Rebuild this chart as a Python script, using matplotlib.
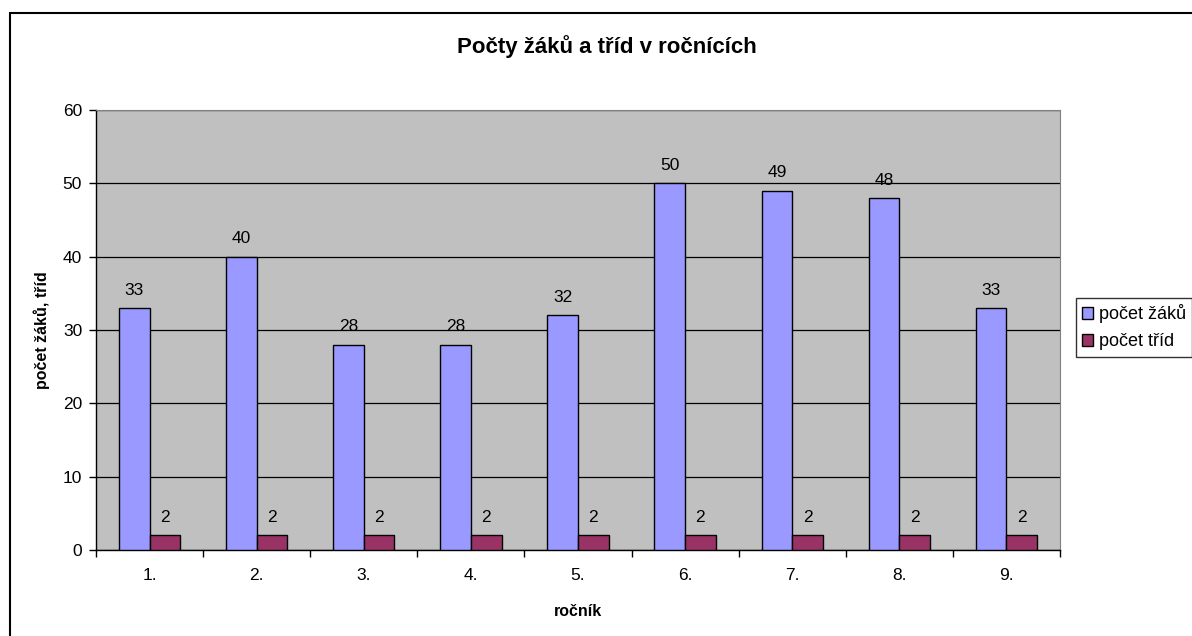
import matplotlib.pyplot as plt
import numpy as np
from matplotlib.patches import Rectangle

plt.rcParams['font.family'] = ['Liberation Sans', 'DejaVu Sans']

rocnik = ['1.', '2.', '3.', '4.', '5.', '6.', '7.', '8.', '9.']
zaci = [33, 40, 28, 28, 32, 50, 49, 48, 33]
tridy = [2, 2, 2, 2, 2, 2, 2, 2, 2]

W, H = 1192, 636
fig = plt.figure(figsize=(W / 100, H / 100), dpi=100)
# plot area in pixels: left 96, right 1060, top 110, bottom 550
ax = fig.add_axes([96 / W, 1 - 550 / H, (1060 - 96) / W, (550 - 110) / H])
ax.set_facecolor('#c0c0c0')

x = np.arange(len(rocnik))
w = 0.286
b1 = ax.bar(x - w / 2, zaci, w, color='#9999ff', edgecolor='black', linewidth=1, label='počet žáků', zorder=3)
b2 = ax.bar(x + w / 2, tridy, w, color='#993366', edgecolor='black', linewidth=1, label='počet tříd', zorder=3)
ax.bar_label(b1, padding=7.5, fontsize=12.5)
ax.bar_label(b2, padding=7.5, fontsize=12.5)

ax.set_xlim(-0.5, len(rocnik) - 0.5)
ax.set_ylim(0, 60)
ax.set_yticks(range(0, 61, 10))
ax.yaxis.grid(True, color='black', linewidth=0.9, zorder=1)
ax.set_axisbelow(True)

ax.set_xticks(x)
ax.set_xticklabels(rocnik)
ax.set_xticks(np.arange(-0.5, len(rocnik), 1), minor=True)
ax.tick_params(axis='x', which='major', length=0, pad=13, labelsize=12.5)
ax.tick_params(axis='x', which='minor', length=5, width=1)
ax.tick_params(axis='y', length=5, width=1, labelsize=12.5, pad=5)

for s in ['top', 'right']:
    ax.spines[s].set_color('#808080')
for s in ['left', 'bottom']:
    ax.spines[s].set_color('black')
    ax.spines[s].set_linewidth(1)

ax.set_xlabel('ročník', fontsize=11.5, fontweight='bold', labelpad=15)
ax.set_ylabel('počet žáků, tříd', fontsize=11.5, fontweight='bold', labelpad=9)
fig.text(607 / W, 1 - 47 / H, 'Počty žáků a tříd v ročnících',
         ha='center', va='center', fontsize=16, fontweight='bold')

leg = ax.legend(loc='upper left', bbox_to_anchor=(1076 / W, 1 - 298 / H),
                bbox_transform=fig.transFigure, frameon=True, fancybox=False,
                edgecolor='black', fontsize=13, handlelength=0.6, handleheight=0.6,
                handletextpad=0.3, borderpad=0.35, labelspacing=0.55, borderaxespad=0)
leg.get_frame().set_linewidth(1)

fig.patches.append(Rectangle((10 / W, -0.05), 1.2, 1 - 13 / H + 0.05,
                             transform=fig.transFigure, fill=False,
                             edgecolor='black', linewidth=1.5))

fig.savefig('out.png', dpi=100)
